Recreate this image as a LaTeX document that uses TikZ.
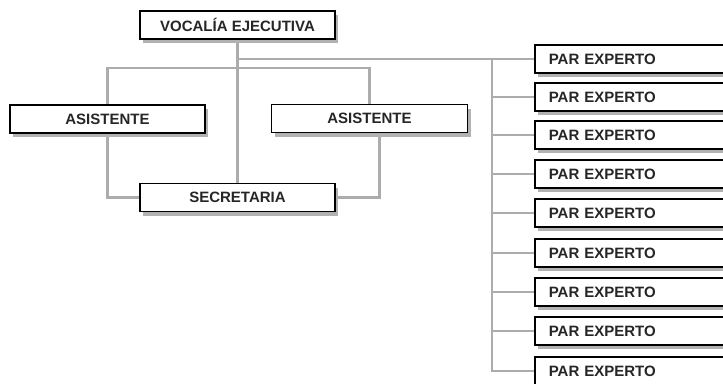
\documentclass[tikz,border=0pt]{standalone}
\usepackage{fontspec}
\setmainfont{Liberation Sans}
\usetikzlibrary{shadows}

\tikzset{
  cargo/.style={draw=black, line width=1.6pt, fill=white, inner sep=0pt,
    minimum height=28pt, text=black!85,
    font=\bfseries\fontsize{15}{15}\selectfont,
    drop shadow={shadow xshift=3pt, shadow yshift=-4pt, fill=gray!60, opacity=1}},
  enlace/.style={draw=gray!65, line width=2.8pt}
}

\begin{document}
\begin{tikzpicture}[x=1pt, y=-1pt]
\clip (0,0) rectangle (723,383);
% Vocalía y asistentes
\node[cargo, minimum width=195pt] (vocalia) at (237.5,25) {VOCALÍA EJECUTIVA};
\node[cargo, minimum width=195pt] (asist1) at (107.5,119) {ASISTENTE};
\node[cargo, minimum width=196pt] (asist2) at (369.5,118.5) {ASISTENTE};
\node[cargo, minimum width=195pt] (secre) at (237.5,197.5) {SECRETARIA};
\coordinate (bus) at (237.5,68);
% Pares expertos
\foreach \i/\y in {1/59,2/97,3/135,4/174,5/213,6/253,7/292,8/331,9/371}
  \node[cargo, anchor=west, minimum width=210pt, text width=196pt,
    inner xsep=14pt] (par\i) at (534,\y) {PAR EXPERTO};
\coordinate (barra) at (492,59);
% Enlaces
\draw[enlace] (vocalia.south) |- (par1.west);
\draw[enlace] (vocalia.south) -- (secre.north);
\draw[enlace] (asist1.north) |- (bus) -| (asist2.north);
\draw[enlace] (asist1.south) |- (secre.west);
\draw[enlace] ([xshift=10pt]asist2.south) |- (secre.east);
\draw[enlace] (barra) |- (par9.west);
\foreach \i in {2,...,8}
  \draw[enlace] (barra |- par\i.west) -- (par\i.west);
% Cajas otra vez encima de los enlaces
\node[cargo, minimum width=195pt] at (vocalia) {VOCALÍA EJECUTIVA};
\node[cargo, minimum width=195pt] at (asist1) {ASISTENTE};
\node[cargo, minimum width=196pt] at (asist2) {ASISTENTE};
\node[cargo, minimum width=195pt] at (secre) {SECRETARIA};
\end{tikzpicture}
\end{document}
